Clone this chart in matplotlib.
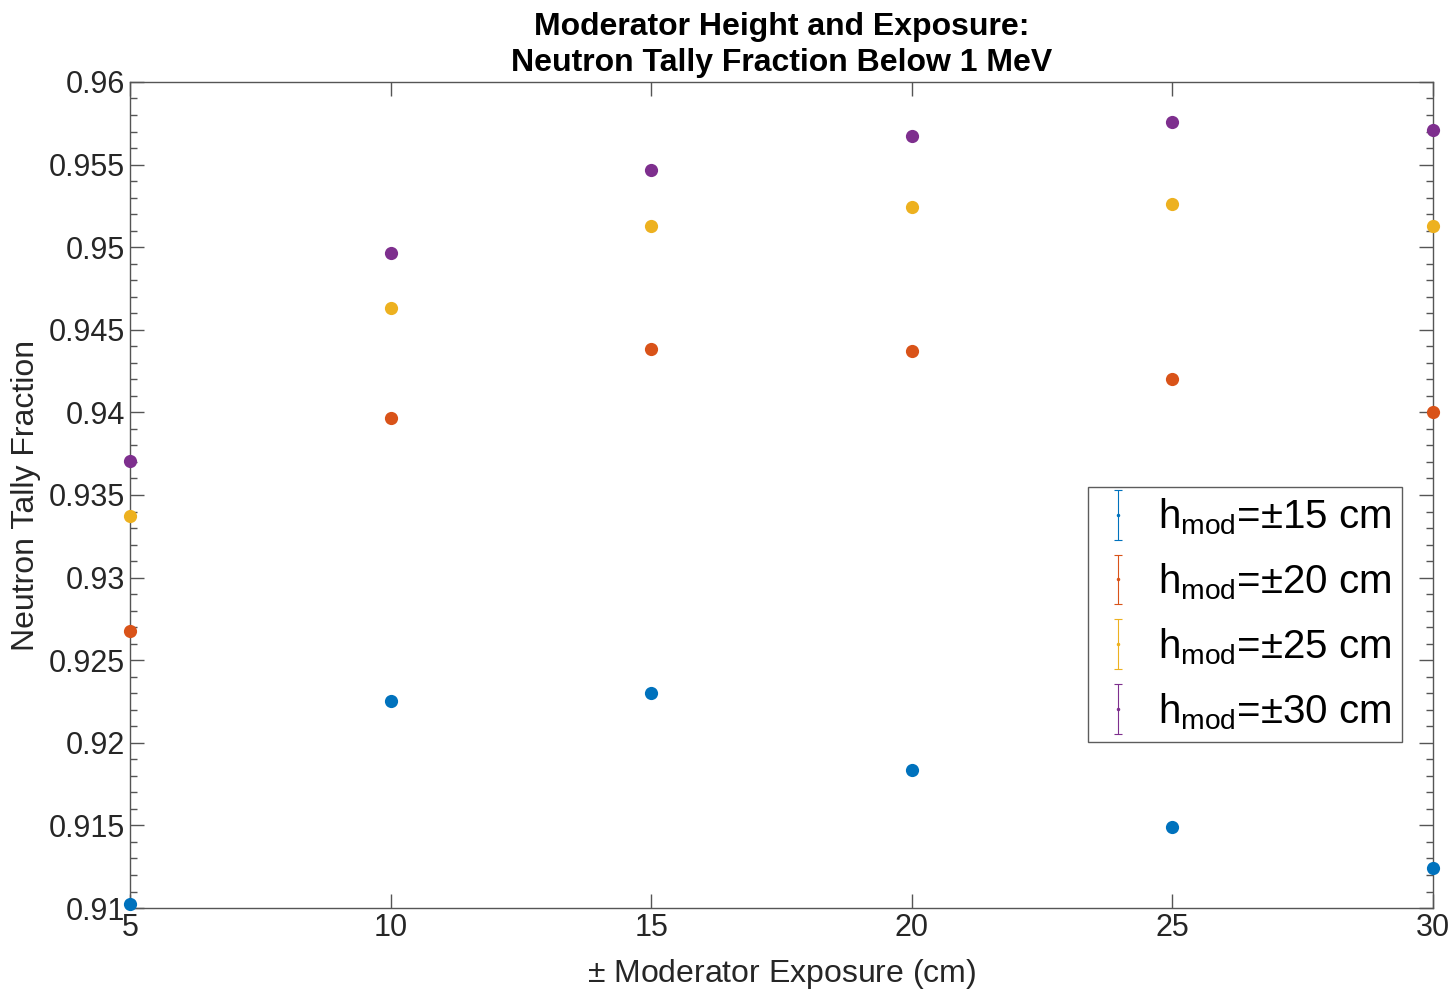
import numpy as np
import matplotlib.pyplot as plt
from matplotlib.ticker import MultipleLocator
from matplotlib.legend_handler import HandlerErrorbar
from matplotlib.container import ErrorbarContainer

plt.rcParams['font.family'] = ['Liberation Sans', 'DejaVu Sans']
plt.rcParams['mathtext.fontset'] = 'custom'
plt.rcParams['mathtext.rm'] = 'Liberation Sans'

# data
exposure = [5, 10, 15, 20, 25, 30]
h15 = [0.91024, 0.92253, 0.92301, 0.91835, 0.91490, 0.91242]
h20 = [0.92677, 0.93966, 0.94384, 0.94372, 0.94202, 0.94002]
h25 = [0.93373, 0.94632, 0.95128, 0.95243, 0.95262, 0.95128]
h30 = [0.93706, 0.94965, 0.95467, 0.95673, 0.95758, 0.95709]
series = [h15, h20, h25, h30]
labels = ['15', '20', '25', '30']
colors = ['#0072BD', '#D95319', '#EDB120', '#7E2F8E']
yticks = [0.91, 0.915, 0.92, 0.925, 0.93, 0.935, 0.94, 0.945, 0.95, 0.955, 0.96]

fig = plt.figure(figsize=(14.54, 9.9), dpi=100)
ax = fig.add_axes([0.0894, 0.0828, 0.8962, 0.8344])

for vals, lab, c in zip(series, labels, colors):
    ax.plot(exposure, vals, 'o', color=c, ms=9.5, mec='none', clip_on=False, zorder=3)
    # legend handle only
    ax.errorbar([np.nan], [np.nan], yerr=[np.nan], fmt='.', color=c, ms=3,
                elinewidth=0.8, capsize=3, capthick=0.8,
                label=r'h$_{\mathrm{mod}}$=$\pm$' + lab + ' cm')

ax.xaxis.set_major_locator(MultipleLocator(5))
ax.set_yticks(yticks)
ax.set_yticklabels([f'{v:g}' for v in yticks])
ax.yaxis.set_minor_locator(MultipleLocator(0.001))
ax.set_xlim(5, 30)
ax.set_ylim(0.91, 0.96)
ax.tick_params(axis='both', which='both', direction='in', top=True, right=True,
               color='#555555', labelcolor='#262626', labelsize=22)
ax.tick_params(which='major', length=10, width=1)
ax.tick_params(which='minor', length=5, width=1)
for s in ax.spines.values():
    s.set_color('#555555')
    s.set_linewidth(1)

ax.set_xlabel(r'$\pm$ Moderator Exposure (cm)', fontsize=23, color='#262626', labelpad=10)
ax.set_ylabel('Neutron Tally Fraction', fontsize=23, color='#262626', labelpad=6)
ax.set_title('Moderator Height and Exposure:\nNeutron Tally Fraction Below 1 MeV',
             fontsize=23, fontweight='bold', pad=8, linespacing=1.25)

leg = ax.legend(loc='upper left', bbox_to_anchor=(0.735, 0.51), fontsize=29,
                frameon=True, fancybox=False, edgecolor='#333333',
                handlelength=1.0, handletextpad=0.5, labelspacing=0.6,
                borderpad=0.25, borderaxespad=0,
                handler_map={ErrorbarContainer: HandlerErrorbar(xerr_size=0.3, yerr_size=0.62)})
leg.get_frame().set_linewidth(1)

fig.savefig('out.png', dpi=100)
